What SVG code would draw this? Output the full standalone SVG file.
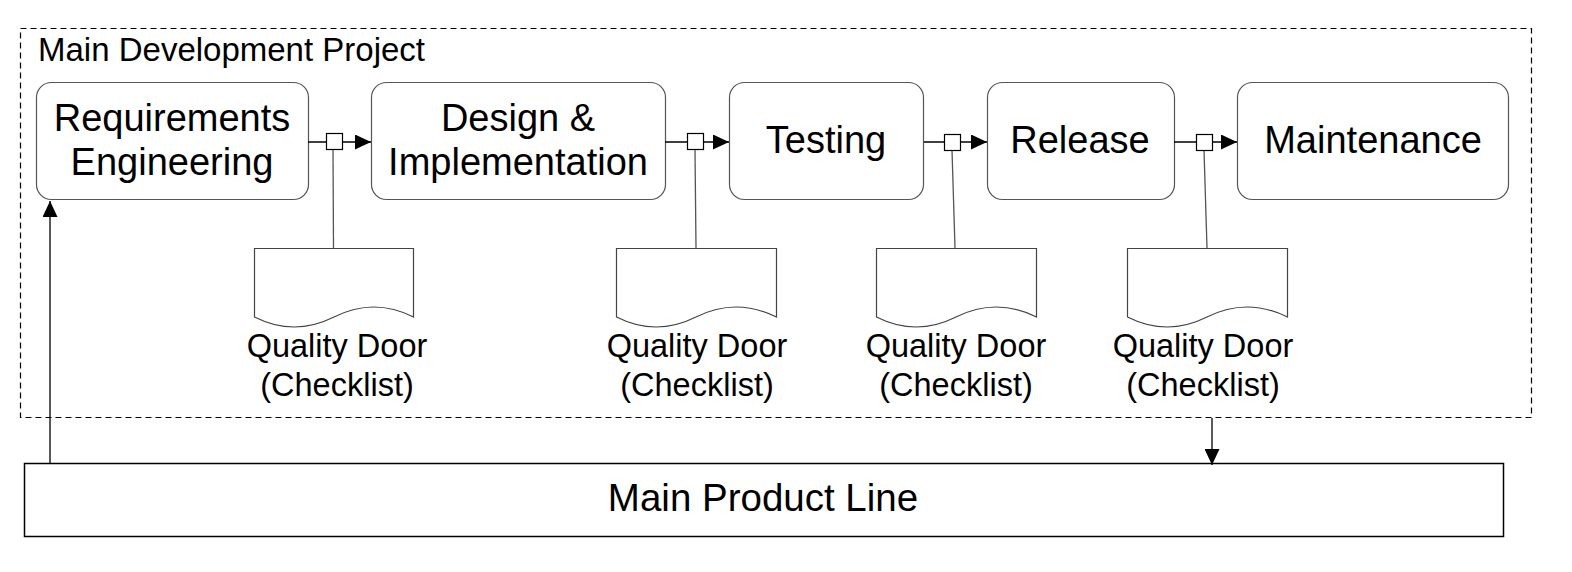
<svg xmlns="http://www.w3.org/2000/svg" width="1572" height="572" viewBox="0 0 1572 572">
<style>
.box{fill:#fff;stroke:#555;stroke-width:1.2}
.lbl{font-family:"Liberation Sans",Arial,sans-serif;font-size:38px;fill:#000;text-anchor:middle}
.qd{font-family:"Liberation Sans",Arial,sans-serif;font-size:32.5px;fill:#000;text-anchor:middle}
.doc{fill:#fff;stroke:#444;stroke-width:1.2}
.gate{fill:#fff;stroke:#000;stroke-width:1.2}
.conn{stroke:#000;stroke-width:1.3;fill:none}
.link{stroke:#555;stroke-width:1.3;fill:none}
</style>
<defs>
<marker id="arr" viewBox="0 0 16 15" refX="16" refY="7.5" markerWidth="16" markerHeight="15" markerUnits="userSpaceOnUse" orient="auto">
<path d="M0,0 L16,7.5 L0,15 z" fill="#000"/>
</marker>
</defs>
<rect width="1572" height="572" fill="#fff"/>
<g id="project">
<rect x="20.5" y="28.5" width="1511" height="389" fill="none" stroke="#000" stroke-width="1.2" stroke-dasharray="6,4"/>
<text x="38" y="61" font-family="'Liberation Sans',Arial,sans-serif" font-size="33px" fill="#000">Main Development Project</text>
</g>
<g id="productline">
<rect x="24.5" y="463.5" width="1479" height="73" fill="#fff" stroke="#000" stroke-width="1.5"/>
<text class="lbl" x="763" y="511" style="font-size:38.5px">Main Product Line</text>
</g>
<g id="requirements">
<rect class="box" x="36.5" y="82.5" width="272" height="117" rx="15"/>
<text class="lbl" x="172" y="131">Requirements</text>
<text class="lbl" x="172" y="175">Engineering</text>
</g>
<g id="design">
<rect class="box" x="371.5" y="82.5" width="294" height="117" rx="15"/>
<text class="lbl" x="518" y="131">Design &amp;</text>
<text class="lbl" x="518" y="175">Implementation</text>
</g>
<g id="testing">
<rect class="box" x="729.5" y="82.5" width="194" height="117" rx="15"/>
<text class="lbl" x="826" y="153">Testing</text>
</g>
<g id="release">
<rect class="box" x="987.5" y="82.5" width="187" height="117" rx="15"/>
<text class="lbl" x="1080" y="153">Release</text>
</g>
<g id="maintenance">
<rect class="box" x="1237.5" y="82.5" width="271" height="117" rx="15"/>
<text class="lbl" x="1373" y="153">Maintenance</text>
</g>
<g id="connectors">
<line class="conn" x1="308" y1="142" x2="371" y2="142" marker-end="url(#arr)"/>
<line class="conn" x1="665" y1="142" x2="729" y2="142" marker-end="url(#arr)"/>
<line class="conn" x1="924" y1="142" x2="987" y2="142" marker-end="url(#arr)"/>
<line class="conn" x1="1174" y1="142" x2="1237" y2="142" marker-end="url(#arr)"/>
<line class="link" x1="333" y1="150" x2="333.5" y2="248"/>
<line class="link" x1="695" y1="150" x2="696" y2="248"/>
<line class="link" x1="952" y1="150" x2="955" y2="248"/>
<line class="link" x1="1204" y1="150" x2="1207" y2="248"/>
<line class="conn" x1="50" y1="463" x2="50" y2="201" marker-end="url(#arr)"/>
<line class="conn" x1="1212" y1="418" x2="1212" y2="465" marker-end="url(#arr)"/>
</g>
<g id="gate1"><rect class="gate" x="326.5" y="133.5" width="16" height="16"/></g>
<g id="gate2"><rect class="gate" x="687.5" y="133.5" width="16" height="16"/></g>
<g id="gate3"><rect class="gate" x="944.5" y="134.5" width="16" height="16"/></g>
<g id="gate4"><rect class="gate" x="1196.5" y="134.5" width="16" height="16"/></g>
<g id="door1">
<path class="doc" d="M254.5,248.5 H413.5 V317 Q374,297 334,317 T254.5,317 Z"/>
<text class="qd" x="337" y="357">Quality Door</text>
<text class="qd" x="337" y="396">(Checklist)</text>
</g>
<g id="door2">
<path class="doc" d="M616.5,248.5 H776.5 V317 Q736,297 696,317 T616.5,317 Z"/>
<text class="qd" x="697" y="357">Quality Door</text>
<text class="qd" x="697" y="396">(Checklist)</text>
</g>
<g id="door3">
<path class="doc" d="M876.5,248.5 H1036.5 V317 Q996,297 956,317 T876.5,317 Z"/>
<text class="qd" x="956" y="357">Quality Door</text>
<text class="qd" x="956" y="396">(Checklist)</text>
</g>
<g id="door4">
<path class="doc" d="M1127.5,248.5 H1287.5 V317 Q1247,297 1207,317 T1127.5,317 Z"/>
<text class="qd" x="1203" y="357">Quality Door</text>
<text class="qd" x="1203" y="396">(Checklist)</text>
</g>
</svg>
